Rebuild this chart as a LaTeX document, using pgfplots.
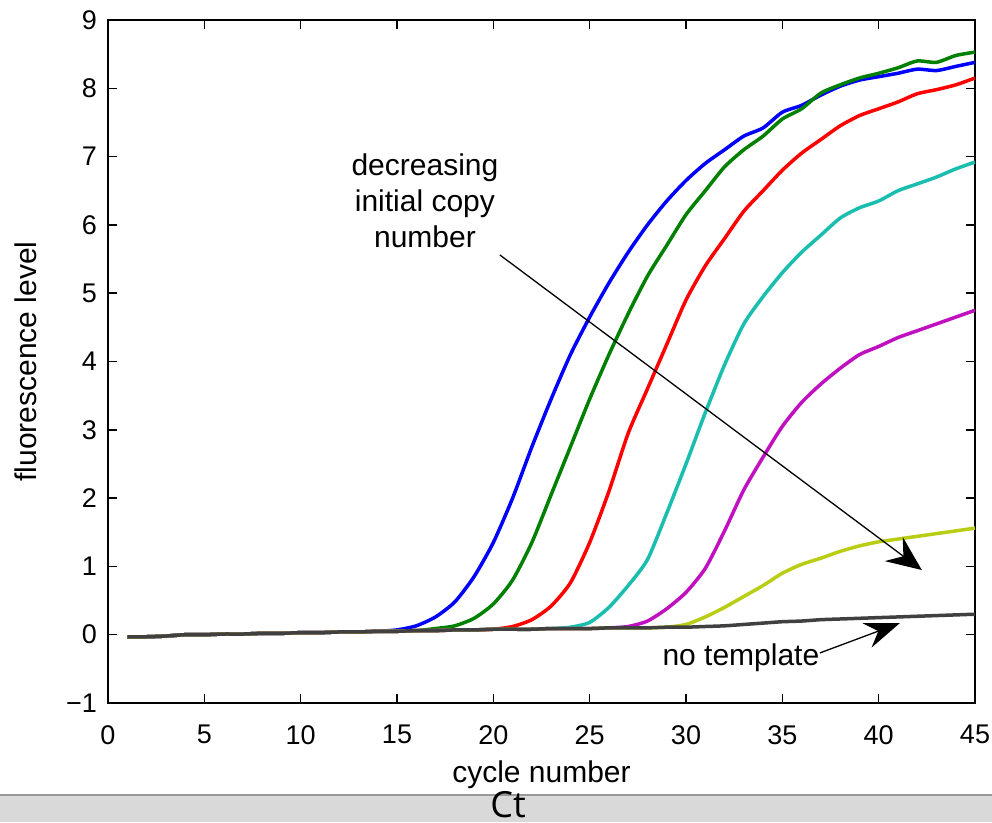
\documentclass[border=0pt]{standalone}
\usepackage{fontspec}
\setmainfont{Liberation Sans}
\newfontfamily\ctfont{Open Sans}
\usepackage{pgfplots}
\usepackage{pgfplotstable}
\pgfplotsset{compat=1.18}
\usetikzlibrary{arrows.meta}

\definecolor{mblue}{rgb}{0,0,1}
\definecolor{mgreen}{rgb}{0,0.5,0}
\definecolor{mred}{rgb}{1,0,0}
\definecolor{mcyan}{RGB}{25,190,175}
\definecolor{mmag}{RGB}{192,16,192}
\definecolor{myel}{RGB}{185,205,20}
\definecolor{mgrey}{RGB}{64,64,64}

% fluorescence per cycle
\pgfplotstableread{
x  blue  green red   cyan  mag   yel   grey
1  -0.03 -0.03 -0.03 -0.03 -0.03 -0.03 -0.03
2  -0.03 -0.03 -0.03 -0.03 -0.03 -0.03 -0.03
3  -0.02 -0.02 -0.02 -0.02 -0.02 -0.02 -0.02
4  0.00  0.00  0.00  0.00  0.00  0.00  0.00
5  0.00  0.00  0.00  0.00  0.00  0.00  0.00
6  0.01  0.01  0.01  0.01  0.01  0.01  0.01
7  0.01  0.01  0.01  0.01  0.01  0.01  0.01
8  0.02  0.02  0.02  0.02  0.02  0.02  0.02
9  0.02  0.02  0.02  0.02  0.02  0.02  0.02
10 0.03  0.03  0.03  0.03  0.03  0.03  0.03
11 0.03  0.03  0.03  0.03  0.03  0.03  0.03
12 0.04  0.04  0.04  0.04  0.04  0.04  0.04
13 0.04  0.04  0.04  0.04  0.04  0.04  0.04
14 0.05  0.05  0.05  0.05  0.05  0.05  0.05
15 0.07  0.05  0.05  0.05  0.05  0.05  0.05
16 0.13  0.06  0.06  0.06  0.06  0.06  0.06
17 0.26  0.09  0.06  0.06  0.06  0.06  0.06
18 0.48  0.13  0.07  0.07  0.07  0.07  0.07
19 0.85  0.24  0.07  0.07  0.07  0.07  0.07
20 1.35  0.45  0.08  0.08  0.08  0.08  0.08
21 2.00  0.80  0.12  0.08  0.08  0.08  0.08
22 2.75  1.35  0.22  0.08  0.08  0.08  0.08
23 3.45  2.05  0.42  0.09  0.09  0.09  0.09
24 4.10  2.75  0.76  0.11  0.09  0.09  0.09
25 4.65  3.45  1.35  0.18  0.09  0.09  0.09
26 5.15  4.10  2.10  0.40  0.10  0.10  0.10
27 5.60  4.70  2.95  0.72  0.12  0.10  0.10
28 6.00  5.25  3.60  1.10  0.20  0.10  0.10
29 6.35  5.70  4.25  1.78  0.38  0.11  0.11
30 6.65  6.15  4.90  2.50  0.62  0.15  0.11
31 6.90  6.50  5.40  3.25  0.97  0.26  0.12
32 7.10  6.85  5.80  3.95  1.52  0.40  0.13
33 7.30  7.10  6.20  4.55  2.12  0.56  0.15
34 7.42  7.30  6.50  4.95  2.60  0.72  0.17
35 7.65  7.55  6.80  5.30  3.05  0.90  0.19
36 7.75  7.70  7.05  5.60  3.40  1.03  0.20
37 7.90  7.93  7.25  5.85  3.67  1.12  0.22
38 8.03  8.05  7.45  6.10  3.90  1.22  0.23
39 8.12  8.15  7.60  6.25  4.10  1.30  0.24
40 8.17  8.22  7.70  6.35  4.22  1.36  0.25
41 8.22  8.30  7.80  6.50  4.35  1.40  0.26
42 8.28  8.40  7.92  6.60  4.45  1.44  0.27
43 8.26  8.38  7.98  6.70  4.55  1.48  0.28
44 8.32  8.48  8.05  6.82  4.65  1.52  0.29
45 8.38  8.53  8.15  6.92  4.75  1.56  0.30
}\qpcr

\newcommand\tickfont{\fontsize{27}{32}\selectfont}
\newcommand\labfont{\fontsize{30}{36}\selectfont}

\begin{document}
\begin{tikzpicture}
\useasboundingbox (0pt,0pt) rectangle (992pt,822pt);
\fill[white] (0pt,0pt) rectangle (992pt,822pt);
\fill[black!15] (0pt,0pt) rectangle (992pt,27pt);
\draw[black!40, line width=1.2pt] (0pt,27pt) -- (992pt,27pt);
\node[anchor=base, inner sep=0pt, font=\ctfont\fontsize{36}{40}\selectfont] at (508pt,5pt) {Ct};

\begin{axis}[
  at={(108pt,119pt)},
  anchor=south west,
  scale only axis,
  width=867pt,
  height=683pt,
  xmin=0, xmax=45,
  ymin=-1, ymax=9,
  xtick={0,5,10,15,20,25,30,35,40,45},
  xticklabels={0,5,10,15,20,25,30,35,40,45},
  ytick={-1,0,1,2,3,4,5,6,7,8,9},
  yticklabels={−1,0,1,2,3,4,5,6,7,8,9},
  tick align=inside,
  major tick length=9pt,
  axis line style={line width=2pt},
  every tick/.style={black, line width=1.5pt},
  ticklabel style={font=\tickfont, inner sep=0pt},
  xticklabel shift=22pt,
  yticklabel shift=11pt,
  xlabel={cycle number},
  ylabel={fluorescence level},
  xlabel style={font=\labfont, inner sep=0pt, at={(axis description cs:0.5,-0.1171)}, anchor=base},
  ylabel style={font=\labfont, inner sep=0pt, at={(axis description cs:-0.0819,0.5)}, anchor=base},
  every axis plot/.append style={line width=3.5pt, line join=round, smooth, tension=0.4}
]
\addplot[mblue] table[x=x, y=blue] {\qpcr};
\addplot[mgreen] table[x=x, y=green] {\qpcr};
\addplot[mred] table[x=x, y=red] {\qpcr};
\addplot[mcyan] table[x=x, y=cyan] {\qpcr};
\addplot[mmag] table[x=x, y=mag] {\qpcr};
\addplot[myel] table[x=x, y=yel] {\qpcr};
\addplot[mgrey] table[x=x, y=grey] {\qpcr};

\node[anchor=base, inner sep=0pt, font=\labfont] at (axis cs:16.45,6.716) {decreasing};
\node[anchor=base, inner sep=0pt, font=\labfont] at (axis cs:16.45,6.189) {initial copy};
\node[anchor=base, inner sep=0pt, font=\labfont] at (axis cs:16.45,5.662) {number};
\draw[line width=1.3pt, -{Stealth[length=35pt, width=30pt, inset=12pt]}]
  (axis cs:20.34,5.56) -- (axis cs:42.24,0.947);

\node[anchor=base, inner sep=0pt, font=\labfont] at (axis cs:32.85,-0.444) {no template};
\draw[line width=1.3pt, -{Stealth[length=35pt, width=26pt, inset=12pt]}]
  (axis cs:36.95,-0.267) -- (axis cs:41.1,0.17);
\end{axis}
\end{tikzpicture}
\end{document}
